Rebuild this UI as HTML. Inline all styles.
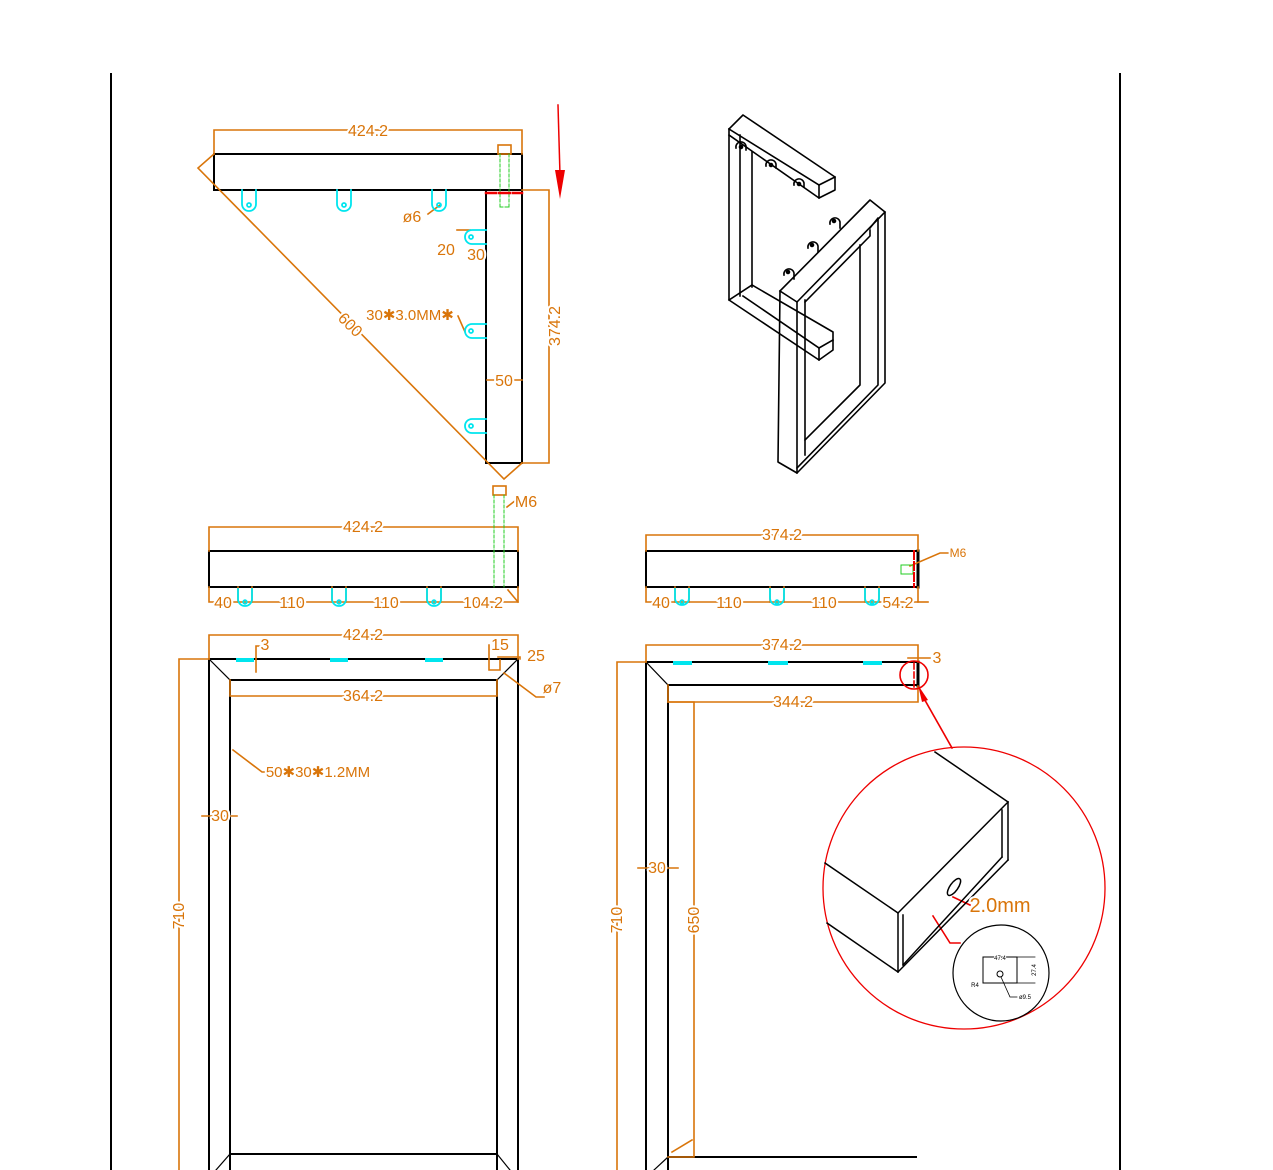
<!DOCTYPE html>
<html><head><meta charset="utf-8"><style>
html,body{margin:0;padding:0;background:#fff;}
svg{display:block;}
text{font-family:"Liberation Sans",sans-serif;fill:#d9750a;stroke:#fff;stroke-width:4px;paint-order:stroke;stroke-linejoin:round;}
</style></head><body>
<svg width="1273" height="1170" viewBox="0 0 1273 1170" xmlns="http://www.w3.org/2000/svg">
<line x1="111" y1="73" x2="111" y2="1170" stroke="#000" stroke-width="2"/>
<line x1="1120" y1="73" x2="1120" y2="1170" stroke="#000" stroke-width="2"/>

<g fill="none" stroke-linecap="square">
<g stroke="#000" stroke-width="2">
<rect x="214" y="154" width="308" height="36"/>
<polyline points="486,190 486,463 522,463 522,190"/>
</g>
<g stroke="#d9750a" stroke-width="1.6">
<polyline points="214,154 214,130 522,130 522,154"/>
<polyline points="522,190 549,190 549,463 522,463"/>
<polyline points="214,154 198,168 504,479 522,463"/>
<rect x="498" y="145" width="13" height="9"/>
<polyline points="487,380 522,380"/>
<polyline points="428,214 440,205"/>
<polyline points="458,316 465,332"/>
<polyline points="457,230 470,230 M462,230 462,255 457,255 M470,254 486,254 M486,250 486,258"/>
</g>
<g stroke="#22cc22" stroke-width="1" stroke-dasharray="3,2">
<line x1="500" y1="154" x2="500" y2="207"/><line x1="509" y1="154" x2="509" y2="207"/><line x1="500" y1="207" x2="509" y2="207"/>
</g>
<g stroke="#ee0000" stroke-width="2.5"><line x1="486" y1="193" x2="496" y2="193"/><line x1="499" y1="193" x2="510" y2="193"/><line x1="513" y1="193" x2="522" y2="193"/></g>
<g stroke="#00e5ee" stroke-width="1.8">
<path d="M242,190 V204 A7,7 0 0 0 256,204 V190"/>
<path d="M337,190 V204 A7,7 0 0 0 351,204 V190"/>
<path d="M432,190 V204 A7,7 0 0 0 446,204 V190"/>
<path d="M486,230 H472 A7,7 0 0 0 472,244 H486"/>
<path d="M486,324 H472 A7,7 0 0 0 472,338 H486"/>
<path d="M486,419 H472 A7,7 0 0 0 472,433 H486"/>
<circle cx="249" cy="205" r="2"/><circle cx="344" cy="205" r="2"/><circle cx="439" cy="205" r="2"/>
<circle cx="471" cy="237" r="2"/><circle cx="471" cy="331" r="2"/><circle cx="471" cy="426" r="2"/>
</g>
<line x1="558" y1="105" x2="560" y2="175" stroke="#ee0000" stroke-width="1.5"/>
<polygon points="555,170 565,170 560,199" fill="#ee0000"/>

<g stroke="#000" stroke-width="1.6" stroke-linejoin="round">
<polyline points="729,129 743,115 835,177 835,190 819,198 729,135"/>
<polyline points="819,185 835,177"/><polyline points="819,185 819,198"/><polyline points="729,129 819,185"/>
<polyline points="729,129 729,300 819,360 833,350 833,332 752,285"/>
<polyline points="740,135 740,296"/><polyline points="752,152 752,287"/>
<polyline points="729,300 752,285"/><polyline points="819,348 819,360"/><polyline points="819,348 833,340"/>
<polyline points="743,296 819,348"/>
<path d="M736,148 a5,5 0 1 1 10,-2 l0,4"/><circle cx="741" cy="147" r="1.5" fill="#000"/>
<path d="M766,166 a5,5 0 1 1 10,-2 l0,4"/><circle cx="771" cy="165" r="1.5" fill="#000"/>
<path d="M794,185 a5,5 0 1 1 10,-2 l0,4"/><circle cx="799" cy="184" r="1.5" fill="#000"/>
<polyline points="780,291 870,200 885,212 885,383 797,473 778,462 780,291"/>
<polyline points="780,291 797,302 885,212"/>
<polyline points="797,302 797,473"/>
<polyline points="805,300 805,455"/>
<polyline points="805,302 870,236 870,230"/>
<polyline points="860,245 860,385 805,440"/>
<polyline points="870,228 878,218 878,385 797,468"/>
<path d="M784,275 a5,5 0 1 1 10,-2 l0,6"/><circle cx="788" cy="272" r="1.5" fill="#000"/>
<path d="M808,248 a5,5 0 1 1 10,-2 l0,6"/><circle cx="812" cy="245" r="1.5" fill="#000"/>
<path d="M830,224 a5,5 0 1 1 10,-2 l0,6"/><circle cx="834" cy="221" r="1.5" fill="#000"/>
</g>

<rect x="209" y="551" width="309" height="36" stroke="#000" stroke-width="2"/>
<g stroke="#d9750a" stroke-width="1.6">
<polyline points="209,551 209,527 518,527 518,551"/>
<polyline points="209,587 209,602 518,602 518,587"/>
<rect x="493" y="486" width="13" height="9"/>
<polyline points="507,507 516,500 520,500"/>
<polyline points="508,590 518,602"/>
<line x1="238" y1="587" x2="238" y2="602"/><line x1="252" y1="587" x2="252" y2="602"/>
<line x1="332" y1="587" x2="332" y2="602"/><line x1="346" y1="587" x2="346" y2="602"/>
<line x1="427" y1="587" x2="427" y2="602"/><line x1="441" y1="587" x2="441" y2="602"/>
</g>
<g stroke="#22cc22" stroke-width="1" stroke-dasharray="3,2"><line x1="494" y1="495" x2="494" y2="587"/><line x1="504" y1="495" x2="504" y2="587"/></g>
<g stroke="#00e5ee" stroke-width="1.8">
<path d="M238,589 V599 A7,7 0 0 0 252,599 V589"/><circle cx="245" cy="602" r="1.8"/>
<path d="M332,589 V599 A7,7 0 0 0 346,599 V589"/><circle cx="339" cy="602" r="1.8"/>
<path d="M427,589 V599 A7,7 0 0 0 441,599 V589"/><circle cx="434" cy="602" r="1.8"/>
</g>

<g stroke="#000" stroke-width="2"><polyline points="916,551 646,551 646,587 916,587"/><line x1="918" y1="551" x2="918" y2="587" stroke-width="3"/></g>
<g stroke="#d9750a" stroke-width="1.6">
<polyline points="646,551 646,535 918,535 918,551"/>
<polyline points="646,587 646,602 918,602 918,587"/><line x1="918" y1="602" x2="928" y2="602"/>
<polyline points="910,566 940,553 950,553"/>
<line x1="675" y1="587" x2="675" y2="602"/><line x1="689" y1="587" x2="689" y2="602"/>
<line x1="770" y1="587" x2="770" y2="602"/><line x1="784" y1="587" x2="784" y2="602"/>
<line x1="865" y1="587" x2="865" y2="602"/><line x1="879" y1="587" x2="879" y2="602"/>
</g>
<rect x="901" y="565" width="12" height="9" stroke="#22cc22" stroke-width="1"/>
<g stroke="#ee0000" stroke-width="2" stroke-dasharray="8,3"><line x1="914" y1="551" x2="914" y2="587"/></g>
<g stroke="#00e5ee" stroke-width="1.8">
<path d="M675,589 V598 A7,7 0 0 0 689,598 V589"/><circle cx="682" cy="602" r="1.8"/>
<path d="M770,589 V598 A7,7 0 0 0 784,598 V589"/><circle cx="777" cy="602" r="1.8"/>
<path d="M865,589 V598 A7,7 0 0 0 879,598 V589"/><circle cx="872" cy="602" r="1.8"/>
</g>

<g stroke="#000" stroke-width="2">
<polyline points="209,1170 209,659 518,659 518,1170"/>
<polyline points="230,1170 230,680 497,680 497,1170"/>
<line x1="230" y1="1154" x2="497" y2="1154"/>
</g>
<g stroke="#000" stroke-width="1.2">
<line x1="209" y1="659" x2="230" y2="680"/><line x1="518" y1="659" x2="497" y2="680"/>
<line x1="230" y1="1154" x2="216" y2="1170"/><line x1="497" y1="1154" x2="510" y2="1170"/>
</g>
<g stroke="#00e5ee" stroke-width="4"><line x1="238" y1="660" x2="252" y2="660"/><line x1="332" y1="660" x2="346" y2="660"/><line x1="427" y1="660" x2="441" y2="660"/></g>
<g stroke="#d9750a" stroke-width="1.6">
<polyline points="209,659 209,635 518,635 518,659"/>
<polyline points="230,680 230,696 497,696 497,680"/>
<polyline points="209,659 179,659 179,1170"/>
<polyline points="202,816 237,816"/>
<polyline points="233,750 262,772 270,772"/>
<polyline points="256,672 256,646 260,646"/>
<polyline points="489,645 489,670 500,670 500,660"/>
<polyline points="498,657 520,657 520,659"/>
<polyline points="504,673 536,697 544,697"/>
</g>

<g stroke="#000" stroke-width="2">
<polyline points="646,1170 646,662 916,662"/>
<polyline points="668,1170 668,685 916,685"/>
<line x1="668" y1="1157" x2="916" y2="1157"/>
<line x1="918" y1="662" x2="918" y2="686" stroke-width="3"/>
</g>
<g stroke="#000" stroke-width="1.2"><line x1="646" y1="662" x2="668" y2="685"/><line x1="668" y1="1157" x2="654" y2="1170"/></g>
<g stroke="#00e5ee" stroke-width="4"><line x1="675" y1="663" x2="690" y2="663"/><line x1="770" y1="663" x2="786" y2="663"/><line x1="865" y1="663" x2="880" y2="663"/></g>
<g stroke="#d9750a" stroke-width="1.6">
<polyline points="646,662 646,645 918,645 918,662"/>
<polyline points="668,685 668,702 918,702 918,686"/>
<polyline points="646,662 617,662 617,1170"/>
<polyline points="668,702 694,702 694,1157 668,1157"/>
<line x1="672" y1="1152" x2="692" y2="1140"/>
<polyline points="638,868 678,868"/>
<polyline points="908,658 930,658"/>
</g>
<g stroke="#ee0000" stroke-width="1.6">
<circle cx="914" cy="675" r="14"/>
<line x1="914" y1="663" x2="914" y2="689" stroke-dasharray="6,3"/>
<line x1="952" y1="748" x2="922" y2="695"/>
<circle cx="964" cy="888" r="141" stroke-width="1.3"/>
<line x1="953" y1="897" x2="970" y2="905"/>
<polyline points="933,916 950,943 960,943"/>
</g>
<polygon points="918,685 928,700 922,702" fill="#ee0000"/>
<g stroke="#000" stroke-width="1.5">
<line x1="935" y1="752" x2="1008" y2="802"/>
<line x1="1008" y1="802" x2="1008" y2="860"/>
<line x1="1002" y1="810" x2="1002" y2="857"/>
<line x1="898" y1="913" x2="1008" y2="802"/>
<line x1="898" y1="913" x2="898" y2="972"/>
<line x1="903" y1="915" x2="903" y2="965"/>
<line x1="825" y1="863" x2="898" y2="913"/>
<line x1="827" y1="923" x2="898" y2="972"/>
<line x1="898" y1="972" x2="1008" y2="860"/>
<line x1="903" y1="965" x2="1002" y2="857"/>
<ellipse cx="954" cy="887" rx="4" ry="10" transform="rotate(35 954 887)"/>
<circle cx="1001" cy="973" r="48" stroke-width="1.2"/>
<rect x="983" y="957" width="34" height="26" stroke-width="1"/>
<line x1="1017" y1="957" x2="1035" y2="957" stroke-width="0.8"/>
<line x1="1017" y1="983" x2="1035" y2="983" stroke-width="0.8"/>
<circle cx="1000" cy="974" r="3" stroke-width="1"/>
<polyline points="1001,977 1010,997 1017,997" stroke-width="0.8"/>
</g>
</g>

<g font-size="16">
<text x="368" y="136" text-anchor="middle">424.2</text>
<text x="555" y="326" text-anchor="middle" transform="rotate(-90 555 326)" dy="5">374.2</text>
<text x="350" y="330" text-anchor="middle" transform="rotate(45 350 325)">600</text>
<text x="412" y="222" text-anchor="middle">ø6</text>
<text x="446" y="255" text-anchor="middle">20</text>
<text x="476" y="260" text-anchor="middle">30</text>
<text x="410" y="320" text-anchor="middle" font-size="15">30✱3.0MM✱</text>
<text x="504" y="386" text-anchor="middle">50</text>
<text x="526" y="507" text-anchor="middle">M6</text>
<text x="363" y="532" text-anchor="middle">424.2</text>
<text x="223" y="608" text-anchor="middle">40</text>
<text x="292" y="608" text-anchor="middle">110</text>
<text x="386" y="608" text-anchor="middle">110</text>
<text x="483" y="608" text-anchor="middle">104.2</text>
<text x="782" y="540" text-anchor="middle">374.2</text>
<text x="958" y="557" text-anchor="middle" font-size="12">M6</text>
<text x="661" y="608" text-anchor="middle">40</text>
<text x="729" y="608" text-anchor="middle">110</text>
<text x="824" y="608" text-anchor="middle">110</text>
<text x="898" y="608" text-anchor="middle">54.2</text>
<text x="363" y="640" text-anchor="middle">424.2</text>
<text x="265" y="650" text-anchor="middle">3</text>
<text x="500" y="650" text-anchor="middle">15</text>
<text x="536" y="661" text-anchor="middle">25</text>
<text x="552" y="693" text-anchor="middle">ø7</text>
<text x="363" y="701" text-anchor="middle">364.2</text>
<text x="318" y="777" text-anchor="middle" font-size="15">50✱30✱1.2MM</text>
<text x="220" y="821" text-anchor="middle">30</text>
<text x="179" y="916" text-anchor="middle" transform="rotate(-90 179 916)" dy="5">710</text>
<text x="782" y="650" text-anchor="middle">374.2</text>
<text x="937" y="663" text-anchor="middle">3</text>
<text x="793" y="707" text-anchor="middle">344.2</text>
<text x="657" y="873" text-anchor="middle">30</text>
<text x="617" y="920" text-anchor="middle" transform="rotate(-90 617 920)" dy="5">710</text>
<text x="694" y="920" text-anchor="middle" transform="rotate(-90 694 920)" dy="5">650</text>
<text x="1000" y="912" text-anchor="middle" font-size="20">2.0mm</text>
</g>
<g font-size="6">
<text x="1000" y="960" text-anchor="middle" style="fill:#000;stroke-width:2px">47.4</text>
<text x="1036" y="970" text-anchor="middle" transform="rotate(-90 1036 970)" style="fill:#000;stroke-width:2px">27.4</text>
<text x="975" y="987" text-anchor="middle" style="fill:#000;stroke-width:2px">R4</text>
<text x="1025" y="999" text-anchor="middle" style="fill:#000;stroke-width:2px">ø9.5</text>
</g>
</svg>
</body></html>
